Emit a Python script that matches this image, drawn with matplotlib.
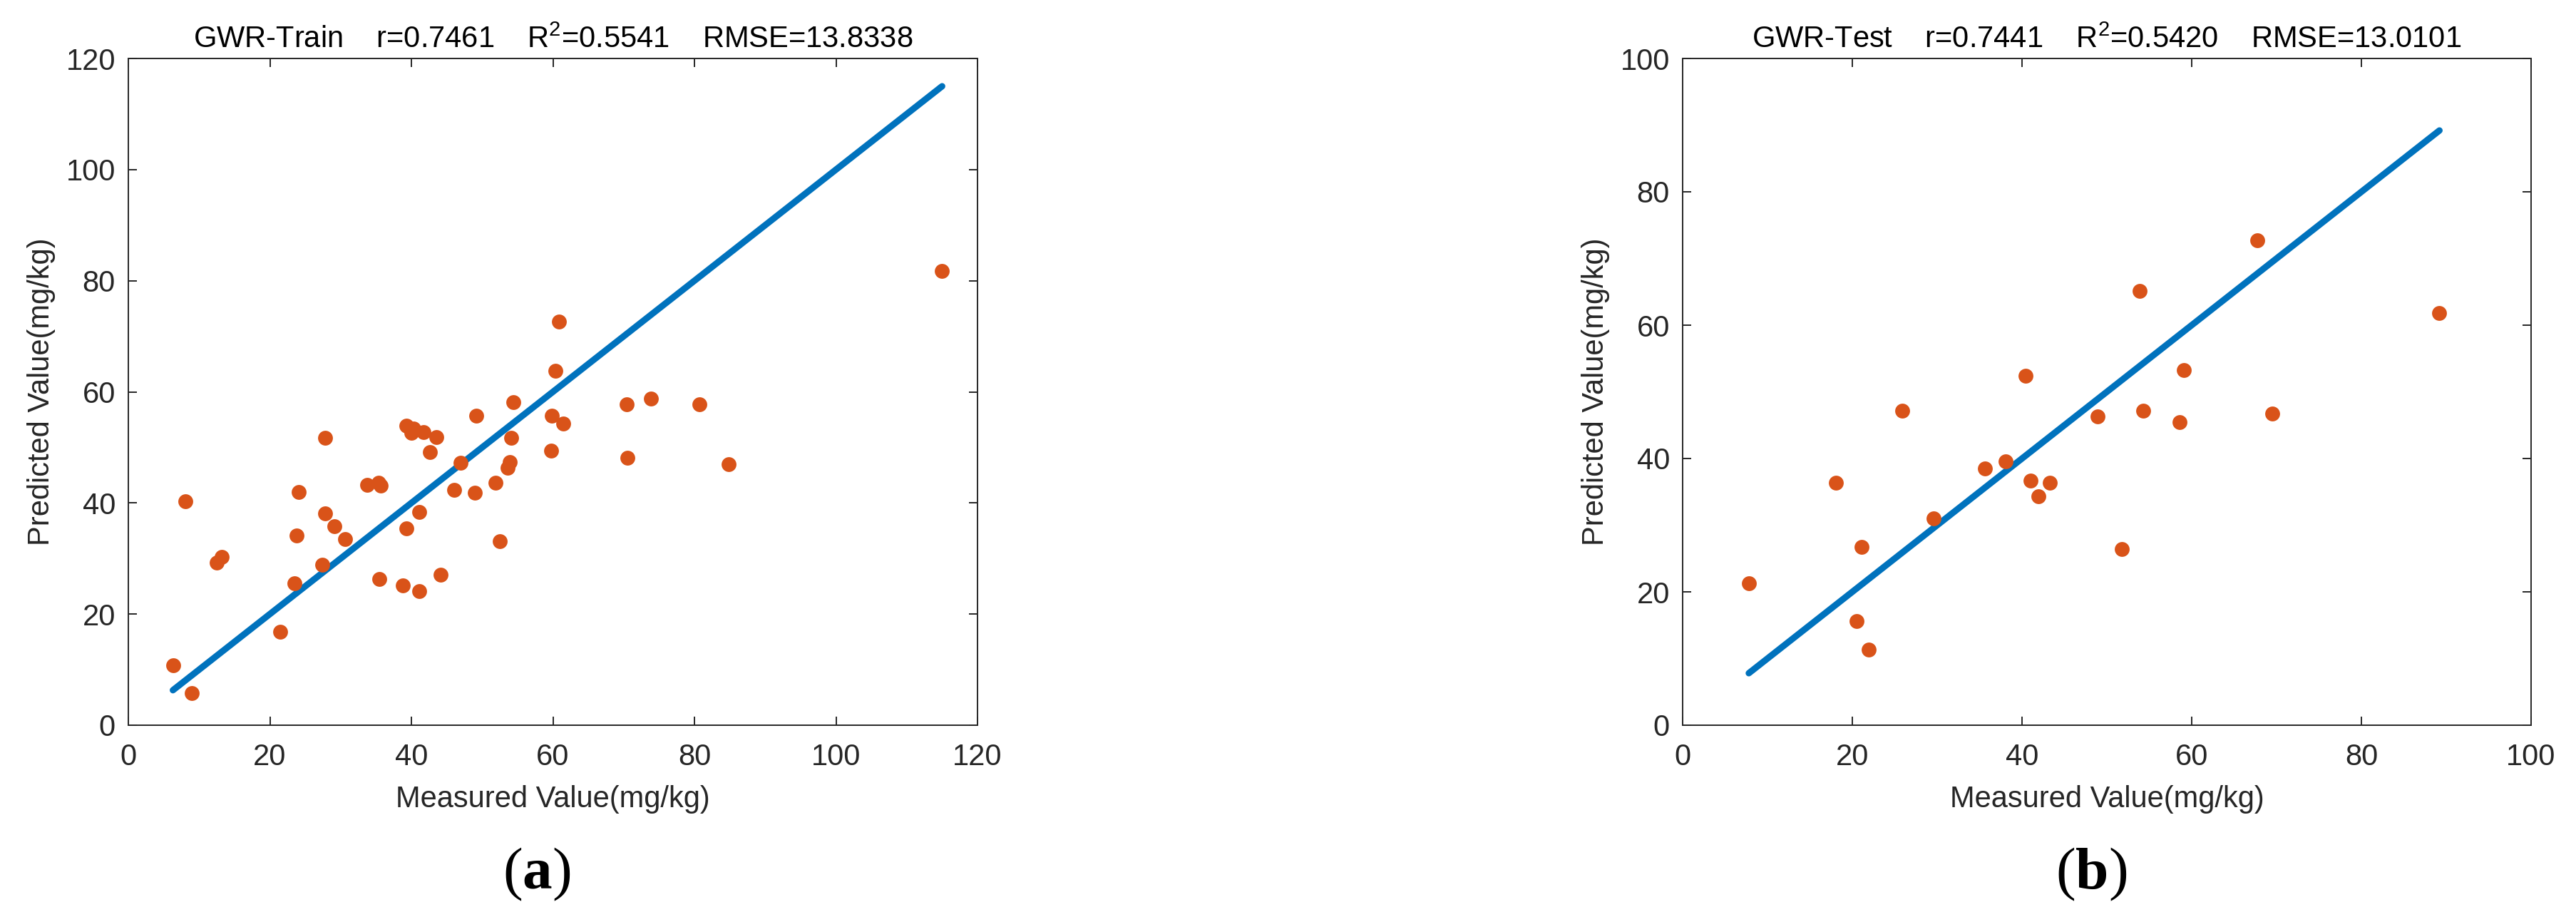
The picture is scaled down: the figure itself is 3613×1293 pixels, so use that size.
import numpy as np
import matplotlib
matplotlib.use('Agg')
import matplotlib.pyplot as plt

plt.rcParams['font.family'] = ['Liberation Sans', 'DejaVu Sans']
plt.rcParams['mathtext.fontset'] = 'custom'
plt.rcParams['mathtext.rm'] = 'Liberation Sans'
plt.rcParams['mathtext.bf'] = 'Liberation Serif:bold'

# training set (a)
train_measured = [6.3, 9.0, 8.1, 12.5, 13.2, 21.5, 23.5, 23.8, 24.1, 27.4,
                  27.8, 27.8, 29.1, 30.6, 33.8, 35.4, 35.7, 35.5, 38.8, 39.3,
                  41.1, 41.1, 39.3, 40.0, 40.3, 41.7, 42.6, 43.5, 44.1, 46.0,
                  47.0, 49.0, 49.2, 51.9, 52.5, 53.6, 53.9, 54.1, 54.4, 59.7,
                  59.8, 60.4, 60.9, 61.5, 70.4, 70.5, 73.9, 80.7, 84.8, 115.0]
train_predicted = [10.8, 5.8, 40.3, 29.3, 30.3, 16.8, 25.6, 34.1, 42.0, 28.9,
                   38.1, 51.7, 35.8, 33.5, 43.3, 43.7, 43.1, 26.3, 25.2, 35.4,
                   24.1, 38.4, 53.9, 52.6, 53.4, 52.8, 49.1, 51.8, 27.1, 42.4,
                   47.2, 41.8, 55.7, 43.6, 33.1, 46.3, 47.3, 51.7, 58.2, 49.4,
                   55.7, 63.8, 72.6, 54.3, 57.8, 48.1, 58.8, 57.7, 47.0, 81.8]

# test set (b)
test_measured = [7.8, 18.1, 20.5, 21.1, 21.9, 25.9, 29.6, 35.6, 38.1, 40.4,
                 41.0, 41.9, 43.3, 48.9, 51.8, 53.9, 54.3, 58.6, 59.1, 67.7,
                 69.5, 89.2]
test_predicted = [21.3, 36.4, 15.6, 26.7, 11.3, 47.2, 31.0, 38.5, 39.6, 52.4,
                  36.7, 34.3, 36.4, 46.3, 26.4, 65.1, 47.2, 45.5, 53.3, 72.7,
                  46.7, 61.8]

train_title = 'GWR-Train    r=0.7461    R$^{2}$=0.5541    RMSE=13.8338'
test_title = 'GWR-Test    r=0.7441    R$^{2}$=0.5420    RMSE=13.0101'
train_ticks = [0, 20, 40, 60, 80, 100, 120]
test_ticks = [0, 20, 40, 60, 80, 100]

axis_col = '#262626'
dot_col = '#D95319'
line_col = '#0072BD'

fig = plt.figure(figsize=(36.13, 12.93), dpi=100)
ax1 = fig.add_axes([180 / 3613, 1 - 1017 / 1293, 1191 / 3613, 935 / 1293])
ax2 = fig.add_axes([2360 / 3613, 1 - 1017 / 1293, 1190 / 3613, 935 / 1293])


def draw(ax, xs, ys, ticks, title):
    xs = np.array(xs)
    ys = np.array(ys)
    ax.plot(xs, ys, 'o', color=dot_col, markersize=15, markeredgewidth=0, zorder=3)
    lo, hi = xs.min(), xs.max()
    ax.plot([lo, hi], [lo, hi], color=line_col, linewidth=6.5,
            solid_capstyle='round', zorder=2)
    ax.set_xlim(ticks[0], ticks[-1])
    ax.set_ylim(ticks[0], ticks[-1])
    ax.set_xticks(ticks)
    ax.set_yticks(ticks)
    ax.tick_params(direction='in', length=8.5, width=1.4, colors=axis_col,
                   labelsize=30, top=True, right=True)
    ax.tick_params(axis='x', pad=18)
    ax.tick_params(axis='y', pad=13)
    for s in ax.spines.values():
        s.set_color(axis_col)
        s.set_linewidth(1.4)
    ax.set_title(title, fontsize=30, pad=11, color='black')
    ax.set_xlabel('Measured Value(mg/kg)', fontsize=30, color=axis_col)
    ax.set_ylabel('Predicted Value(mg/kg)', fontsize=30, color=axis_col)
    ax.xaxis.set_label_coords(0.5, -0.09)
    ax.yaxis.set_label_coords(-0.086, 0.5)


draw(ax1, train_measured, train_predicted, train_ticks, train_title)
draw(ax2, test_measured, test_predicted, test_ticks, test_title)

fig.text(753 / 3613, 1 - 1226 / 1293, r'($\mathbf{a}$)', family='Liberation Serif',
         fontsize=60, ha='center', va='center')
fig.text(2933 / 3613, 1 - 1226 / 1293, r'($\mathbf{b}$)', family='Liberation Serif',
         fontsize=60, ha='center', va='center')

fig.savefig('out.png', dpi=100)
